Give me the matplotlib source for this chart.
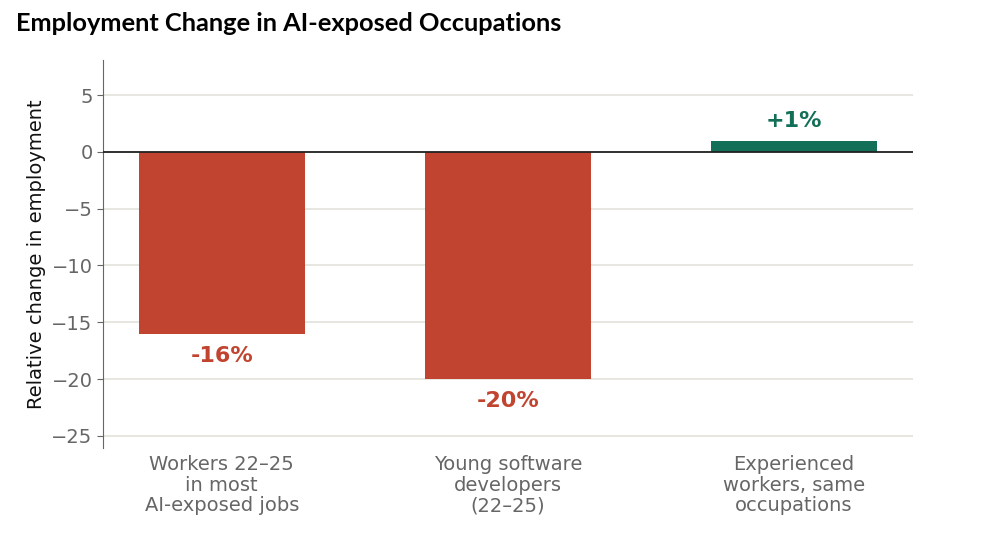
import matplotlib
matplotlib.use("Agg")
import matplotlib.pyplot as plt

plt.rcParams['font.family'] = ['DejaVu Sans']

categories = ["Workers 22\u201325\nin most\nAI-exposed jobs",
              "Young software\ndevelopers\n(22\u201325)",
              "Experienced\nworkers, same\noccupations"]
changes = [-16, -20, 1]
labels = ["-16%", "-20%", "+1%"]
yticks = [5, 0, -5, -10, -15, -20, -25]

red = "#C0442F"
green = "#136F57"
colors = [red if v < 0 else green for v in changes]

fig = plt.figure(figsize=(9.9, 5.35), dpi=100)
ax = fig.add_axes([0.104, 0.163, 0.818, 0.725])

x = range(len(changes))
ax.bar(x, changes, width=0.58, color=colors, zorder=3)
ax.axhline(0, color="#222222", lw=1.3, zorder=4)

for i, (v, lab) in enumerate(zip(changes, labels)):
    off = 1.75 if v >= 0 else -1.95
    ax.text(i, v + off, lab, ha="center", va="center", fontsize=16,
            fontweight="bold", color=colors[i])

ax.set_xlim(-0.415, 2.415)
ax.set_ylim(-26.05, 8.1)
ax.set_yticks(yticks)
ax.set_yticklabels([str(t).replace("-", "\u2212") for t in yticks])
ax.set_xticks(list(x))
ax.set_xticklabels(categories, linespacing=1.12)
ax.tick_params(axis="x", length=0, pad=5, labelsize=14, labelcolor="#666666")
ax.tick_params(axis="y", length=4, color="#666666", labelsize=14, labelcolor="#666666")
ax.grid(axis="y", color="#e4e1dc", lw=1.2, zorder=0)
ax.set_axisbelow(True)
for s in ["top", "right", "bottom"]:
    ax.spines[s].set_visible(False)
ax.spines["left"].set_color("#666666")
ax.set_ylabel("Relative change in employment", fontsize=14, color="#111111")

fig.text(0.016, 0.957, "Employment Change in AI-exposed Occupations",
         fontsize=18.3, fontweight="bold", family="Lato", va="center")

fig.savefig("out.png", dpi=100)
